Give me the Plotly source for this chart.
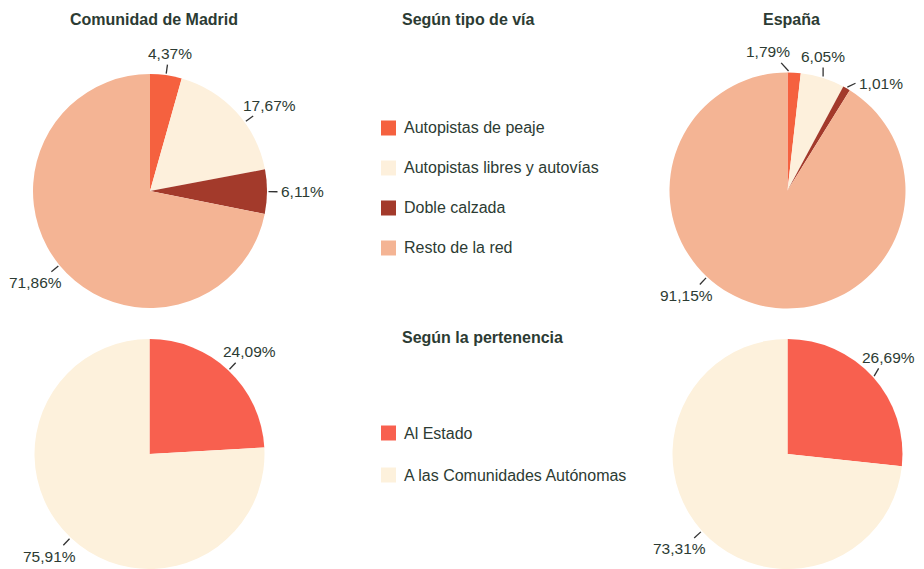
import math
import plotly.graph_objects as go

# screen size and the default 8px page margin of the HTML body
SCREEN_W, SCREEN_H = 924, 569
OFF = 8
W, H = SCREEN_W - OFF, SCREEN_H - OFF

# ---------------- data ----------------
via_labels = ["Autopistas de peaje", "Autopistas libres y autovías", "Doble calzada", "Resto de la red"]
madrid_via = [4.37, 17.67, 6.11, 71.86]
espana_via = [1.79, 6.05, 1.01, 91.15]

pert_labels = ["Al Estado", "A las Comunidades Autónomas"]
madrid_pert = [24.09, 75.91]
espana_pert = [26.69, 73.31]

col_titles = ["Comunidad de Madrid", "España"]
section_titles = ["Según tipo de vía", "Según la pertenencia"]

# ---------------- style ----------------
via_colors = ["#f5613f", "#fdf0dc", "#a33a2b", "#f4b494"]
pert_colors = ["#f8604f", "#fdf1dc"]
TEXT = "#2c3b33"
FONT = "Liberation Sans, Arial, sans-serif"

# pie geometry in screen pixels: centre x, centre y, radius
GEO = {
    "tl": (150, 191, 117),
    "tr": (787.5, 190.5, 118),
    "bl": (149.5, 454, 115),
    "br": (787.5, 454, 115),
}
pies = [
    ("tl", madrid_via, via_labels, via_colors),
    ("tr", espana_via, via_labels, via_colors),
    ("bl", madrid_pert, pert_labels, pert_colors),
    ("br", espana_pert, pert_labels, pert_colors),
]
# label placement tweaks (angles in degrees, clockwise from 12 o'clock)
LABEL_TWEAK = {
    ("tl", 1): dict(angle=54),
    ("tr", 0): dict(angle=0.5, dir=318, L=11),
    ("tr", 1): dict(dir=0),
    ("tr", 2): dict(dir=65),
    ("tr", 3): dict(angle=223),
    ("br", 0): dict(dir=30),
}


def px2paper(x, y):
    return (x - OFF) / W, 1 - (y - OFF) / H


fig = go.Figure()
shapes = []
annotations = []

for key, vals, labels, colors in pies:
    cx, cy, r = GEO[key]
    x0, y0 = px2paper(cx - r, cy + r)
    x1, y1 = px2paper(cx + r, cy - r)
    fig.add_trace(go.Pie(
        values=vals, labels=labels, sort=False, direction="clockwise", rotation=0,
        marker=dict(colors=colors, line=dict(width=0)),
        textinfo="none", hoverinfo="label+percent", showlegend=False,
        domain=dict(x=[max(0, x0), min(1, x1)], y=[max(0, y0), min(1, y1)]),
    ))
    total = sum(vals)
    cum = 0
    for i, v in enumerate(vals):
        mid = (cum + v / 2) / total * 360
        cum += v
        tw = LABEL_TWEAK.get((key, i), {})
        ang = tw.get("angle", mid)
        d = tw.get("dir", ang)
        L = tw.get("L", 9)
        a = math.radians(ang)
        px1 = cx + (r + 1.5) * math.sin(a)
        py1 = cy - (r + 1.5) * math.cos(a)
        s, c = math.sin(math.radians(d)), math.cos(math.radians(d))
        px2 = px1 + L * s
        py2 = py1 - L * c
        ax1, ay1 = px2paper(px1, py1)
        ax2, ay2 = px2paper(px2, py2)
        shapes.append(dict(type="line", xref="paper", yref="paper", x0=ax1, y0=ay1, x1=ax2, y1=ay2,
                           line=dict(color="#333333", width=1.3)))
        if c > 0.5:
            tx, ty, xa, ya = px2 + 20 * s, py2 - 0.5, "center", "bottom"
        elif c < -0.5:
            tx, ty, xa, ya = px2 + 20 * s, py2 + 0.5, "center", "top"
        else:
            tx, ty = px2 + (2 if s > 0 else -2), py2
            xa, ya = ("left" if s > 0 else "right"), "middle"
        tpx, tpy = px2paper(tx, ty)
        annotations.append(dict(
            text=f"{v:.2f}".replace(".", ",") + "%", xref="paper", yref="paper",
            x=tpx, y=tpy, xanchor=xa, yanchor=ya, showarrow=False,
            font=dict(family=FONT, size=15.5, color=TEXT)))

# column titles
for title, key in zip(col_titles, ["tl", "tr"]):
    cx = GEO[key][0]
    tx, ty = px2paper(cx + 4, 20)
    annotations.append(dict(text=f"<b>{title}</b>", xref="paper", yref="paper", x=tx, y=ty,
                            xanchor="center", yanchor="middle", showarrow=False,
                            font=dict(family=FONT, size=16, color=TEXT)))

# section titles + manual legends
LEG_X = 381
SQ = 15
sections = [
    (section_titles[0], 20, via_labels, via_colors, 128, 40),
    (section_titles[1], 337, pert_labels, pert_colors, 433, 42),
]
for title, ty_px, labels, colors, y_first, step in sections:
    tx, ty = px2paper(400, ty_px)
    annotations.append(dict(text=f"<b>{title}</b>", xref="paper", yref="paper", x=tx, y=ty,
                            xanchor="left", yanchor="middle", showarrow=False,
                            font=dict(family=FONT, size=16, color=TEXT)))
    for j, (lab, col) in enumerate(zip(labels, colors)):
        yc = y_first + j * step
        sx0, sy0 = px2paper(LEG_X, yc + SQ / 2)
        sx1, sy1 = px2paper(LEG_X + SQ, yc - SQ / 2)
        shapes.append(dict(type="rect", xref="paper", yref="paper", x0=sx0, y0=sy0, x1=sx1, y1=sy1,
                           fillcolor=col, line=dict(width=0)))
        lx, ly = px2paper(LEG_X + SQ + 6, yc)
        annotations.append(dict(text=lab, xref="paper", yref="paper", x=lx, y=ly,
                                xanchor="left", yanchor="middle", showarrow=False,
                                font=dict(family=FONT, size=16, color=TEXT)))

fig.update_layout(
    width=W, height=H,
    margin=dict(l=0, r=0, t=0, b=0),
    paper_bgcolor="white", plot_bgcolor="white",
    shapes=shapes, annotations=annotations,
    font=dict(family=FONT, color=TEXT),
)

fig.write_html("out.html")
